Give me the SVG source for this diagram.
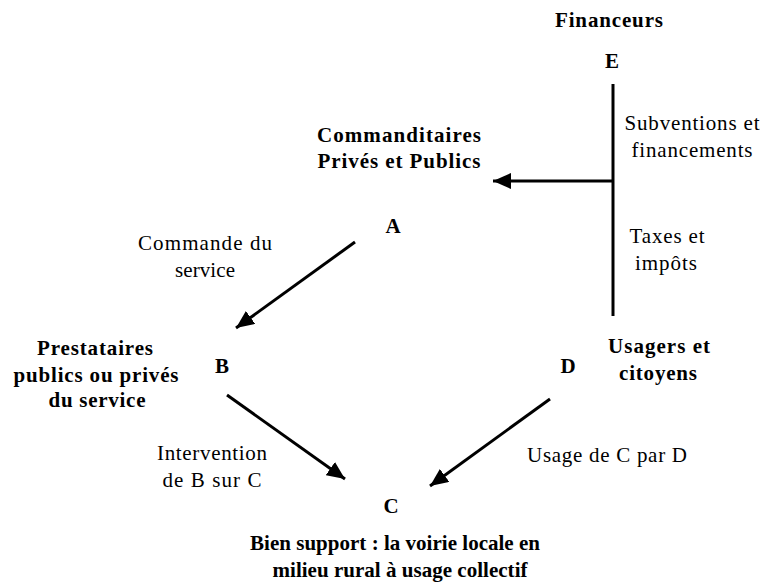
<svg xmlns="http://www.w3.org/2000/svg" width="766" height="583" viewBox="0 0 766 583" font-family="Liberation Serif, DejaVu Serif, Times New Roman, serif">
<style>
text{fill:#000;text-anchor:middle}
.b{font-weight:bold;font-size:21px}
.r{font-size:21px}
.c{stroke:#000;stroke-width:3;fill:none}
</style>
<defs>
<marker id="ah" markerUnits="userSpaceOnUse" markerWidth="20" markerHeight="16" refX="18" refY="8" orient="auto">
<path d="M0,0 L18,8 L0,16 Z" fill="#000"/>
</marker>
</defs>
<rect width="766" height="583" fill="#fff"/>
<g id="connectors">
<line class="c" x1="613" y1="84" x2="613" y2="316"/>
<line class="c" x1="613" y1="181" x2="493" y2="181" marker-end="url(#ah)"/>
<line class="c" x1="355" y1="242" x2="236" y2="328" marker-end="url(#ah)"/>
<line class="c" x1="227" y1="395" x2="345" y2="479" marker-end="url(#ah)"/>
<line class="c" x1="550" y1="399" x2="430" y2="486" marker-end="url(#ah)"/>
</g>
<g id="E">
<text class="b" x="609" y="27" textLength="108" lengthAdjust="spacing">Financeurs</text>
<text class="b" x="612" y="68">E</text>
</g>
<g id="A">
<text class="b" x="399" y="142" textLength="164" lengthAdjust="spacing">Commanditaires</text>
<text class="b" x="399" y="168" textLength="163" lengthAdjust="spacing">Privés et Publics</text>
<text class="b" x="393" y="233">A</text>
</g>
<g id="B">
<text class="b" x="95" y="355" textLength="116" lengthAdjust="spacing">Prestataires</text>
<text class="b" x="96" y="382" textLength="165" lengthAdjust="spacing">publics ou privés</text>
<text class="b" x="97" y="407" textLength="97" lengthAdjust="spacing">du service</text>
<text class="b" x="222" y="373">B</text>
</g>
<g id="D">
<text class="b" x="659" y="353" textLength="102" lengthAdjust="spacing">Usagers et</text>
<text class="b" x="658" y="380" textLength="78" lengthAdjust="spacing">citoyens</text>
<text class="b" x="568" y="373">D</text>
</g>
<g id="C">
<text class="b" x="391" y="513">C</text>
<text class="b" x="395" y="550" textLength="290" lengthAdjust="spacing">Bien support : la voirie locale en</text>
<text class="b" x="400" y="577" textLength="255" lengthAdjust="spacing">milieu rural à usage collectif</text>
</g>
<g id="labels">
<text class="r" x="692" y="130" textLength="135" lengthAdjust="spacing">Subventions et</text>
<text class="r" x="692" y="157" textLength="121" lengthAdjust="spacing">financements</text>
<text class="r" x="667" y="243" textLength="75" lengthAdjust="spacing">Taxes et</text>
<text class="r" x="666" y="270" textLength="62" lengthAdjust="spacing">impôts</text>
<text class="r" x="205" y="250" textLength="134" lengthAdjust="spacing">Commande du</text>
<text class="r" x="205" y="277" textLength="60" lengthAdjust="spacing">service</text>
<text class="r" x="212" y="460" textLength="110" lengthAdjust="spacing">Intervention</text>
<text class="r" x="212" y="487" textLength="99" lengthAdjust="spacing">de B sur C</text>
<text class="r" x="607" y="462" textLength="160" lengthAdjust="spacing">Usage de C par D</text>
</g>
</svg>
